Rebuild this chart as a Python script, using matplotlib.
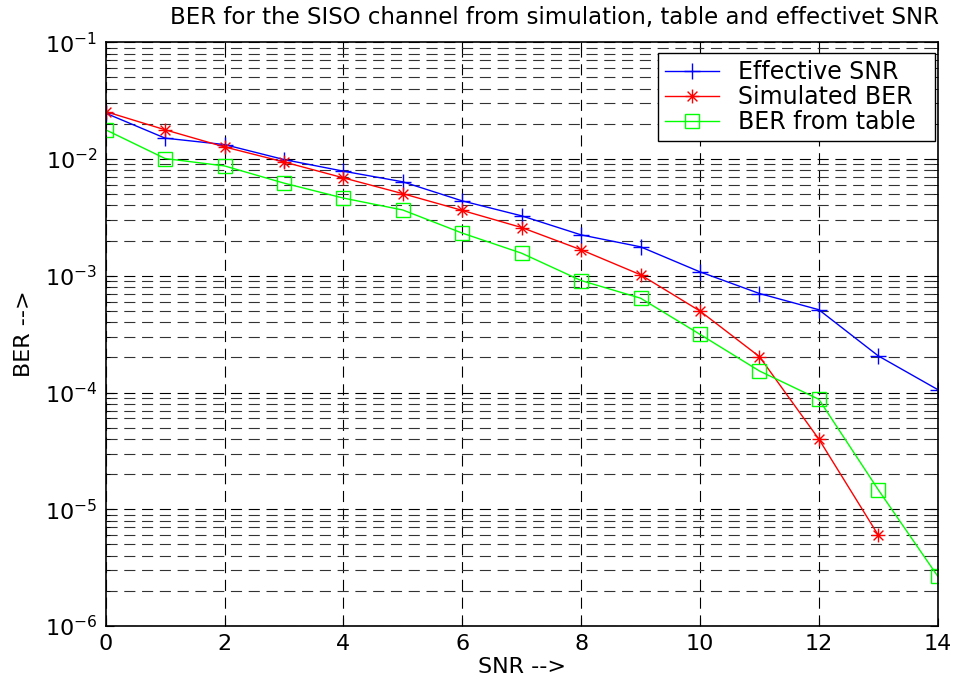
import numpy as np
import matplotlib.pyplot as plt
from matplotlib.path import Path
from matplotlib.ticker import LogLocator, NullFormatter, FuncFormatter

plt.rcParams['font.family'] = ['DejaVu Sans']
plt.rcParams['mathtext.fontset'] = 'dejavusans'

snr = [0, 1, 2, 3, 4, 5, 6, 7, 8, 9, 10, 11, 12, 13, 14]
ber_eff = [2.47e-2, 1.51e-2, 1.33e-2, 9.9e-3, 7.87e-3, 6.38e-3, 4.38e-3, 3.26e-3,
           2.24e-3, 1.77e-3, 1.08e-3, 7.05e-4, 5.12e-4, 2.06e-4, 1.06e-4]
snr_sim = [0, 1, 2, 3, 4, 5, 6, 7, 8, 9, 10, 11, 12, 13]
ber_sim = [2.55e-2, 1.78e-2, 1.27e-2, 9.44e-3, 6.9e-3, 5.05e-3, 3.63e-3, 2.59e-3,
           1.67e-3, 1.02e-3, 4.99e-4, 2.03e-4, 3.99e-5, 6.0e-6]
ber_tab = [1.78e-2, 1.01e-2, 8.73e-3, 6.22e-3, 4.63e-3, 3.66e-3, 2.32e-3, 1.56e-3,
           9.1e-4, 6.43e-4, 3.15e-4, 1.53e-4, 8.75e-5, 1.47e-5, 2.67e-6]

# matlab style asterisk: + and x together
d = np.sqrt(0.5)
verts = [(-1, 0), (1, 0), (0, -1), (0, 1), (-d, -d), (d, d), (-d, d), (d, -d)]
codes = [Path.MOVETO, Path.LINETO] * 4
asterisk = Path(verts, codes)

fig = plt.figure(figsize=(9.56, 6.9), dpi=100)
ax = fig.add_axes([105.7/956, 1-626/690, (937.7-105.7)/956, (626-42.3)/690])

ax.semilogy(snr, ber_eff, '-', marker='+', color='blue', lw=1, ms=12, mew=1, label='Effective SNR')
ax.semilogy(snr_sim, ber_sim, '-', marker=asterisk, color='red', lw=1, ms=10, mew=1,
            mfc='none', label='Simulated BER')
ax.semilogy(snr, ber_tab, '-', marker='s', color='#00ff00', lw=1, ms=9.5, mfc='none', mew=1,
            label='BER from table')

ax.set_xlim(0, 14)
ax.set_ylim(1e-6, 1e-1)
ax.set_xticks(range(0, 15, 2))
ax.yaxis.set_major_locator(LogLocator(base=10, numticks=10))
ax.yaxis.set_major_formatter(FuncFormatter(lambda v, p: r'$\mathregular{10^{%d}}$' % round(np.log10(v))))
ax.yaxis.set_minor_locator(LogLocator(base=10, subs=np.arange(2, 10), numticks=20))
ax.yaxis.set_minor_formatter(NullFormatter())

ax.grid(True, which='major', axis='both', color='black', linestyle=(0, (10, 6)), lw=0.8)
ax.grid(True, which='minor', axis='y', color='#333333', linestyle=(0, (10, 6)), lw=0.8)
ax.tick_params(which='both', direction='in', top=True, right=True, labelsize=16)
ax.tick_params(which='major', length=6, pad=6)
ax.tick_params(which='minor', length=3)
for s in ax.spines.values():
    s.set_linewidth(1.2)

ax.set_xlabel('SNR -->', fontsize=16, labelpad=2)
ax.set_ylabel('BER -->', fontsize=16, labelpad=8)
ax.set_title('BER for the SISO channel from simulation, table and effectivet SNR',
             fontsize=16.5, pad=13, x=0.54)

leg = ax.legend(loc='upper right', bbox_to_anchor=(0.6638, 0.8, 0.333, 0.182), mode='expand',
                borderaxespad=0, fontsize=17, fancybox=False, edgecolor='black', framealpha=1,
                handlelength=2.3, handletextpad=0.8, labelspacing=0.05, borderpad=0.3)
leg.get_frame().set_linewidth(1)

fig.savefig('out.png', dpi=100)
